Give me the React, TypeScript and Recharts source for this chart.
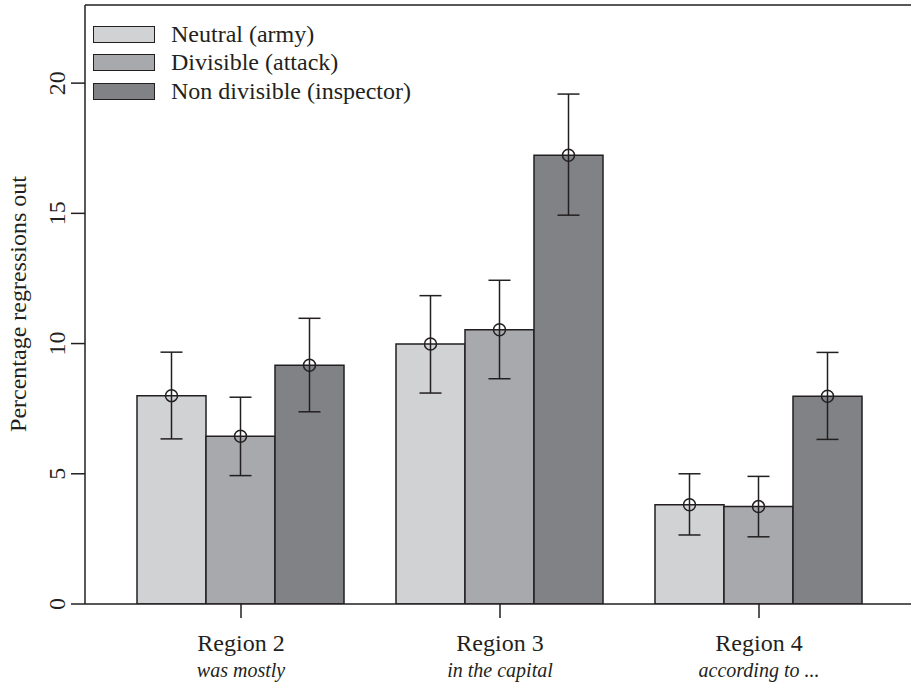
import { BarChart, Bar, XAxis, YAxis, ErrorBar, Legend, ReferenceLine } from 'recharts';

const categories = ['Region 2', 'Region 3', 'Region 4'];
const subtitles = ['was mostly', 'in the capital', 'according to ...'];

const neutral = [8.0, 9.98, 3.81];
const neutralLow = [6.34, 8.1, 2.65];
const neutralHigh = [9.67, 11.84, 5.0];

const divisible = [6.44, 10.53, 3.74];
const divisibleLow = [4.93, 8.65, 2.58];
const divisibleHigh = [7.94, 12.43, 4.9];

const nonDivisible = [9.17, 17.23, 7.98];
const nonDivisibleLow = [7.38, 14.93, 6.32];
const nonDivisibleHigh = [10.97, 19.58, 9.66];

const yTicks = [0, 5, 10, 15, 20];

const SERIES = [
  { key: 'neutral', name: 'Neutral (army)', fill: '#d1d2d4' },
  { key: 'divisible', name: 'Divisible (attack)', fill: '#a7a9ac' },
  { key: 'nonDivisible', name: 'Non divisible (inspector)', fill: '#808285' },
];

const INK = '#231f20';
const FONT = '"Liberation Serif", "Times New Roman", serif';

const data = categories.map((name, i) => ({
  name,
  neutral: neutral[i],
  neutralErr: [neutral[i] - neutralLow[i], neutralHigh[i] - neutral[i]],
  divisible: divisible[i],
  divisibleErr: [divisible[i] - divisibleLow[i], divisibleHigh[i] - divisible[i]],
  nonDivisible: nonDivisible[i],
  nonDivisibleErr: [nonDivisible[i] - nonDivisibleLow[i], nonDivisibleHigh[i] - nonDivisible[i]],
}));

function XTick({ x, y, payload }: any) {
  const idx = categories.indexOf(payload.value);
  return (
    <g>
      <text x={x} y={y + 31} textAnchor="middle" fontSize={24} fill={INK} fontFamily={FONT}>
        {payload.value}
      </text>
      <text x={x} y={y + 57} textAnchor="middle" fontSize={20} fontStyle="italic" fill={INK} fontFamily={FONT}>
        {subtitles[idx]}
      </text>
    </g>
  );
}

function YTick({ y, payload }: any) {
  return (
    <text
      transform={`translate(65, ${y}) rotate(-90)`}
      textAnchor="middle"
      fontSize={24}
      fill={INK}
      fontFamily={FONT}
    >
      {payload.value}
    </text>
  );
}

function MeanMarker(props: any) {
  const { x, y, width } = props;
  if (x == null || y == null) return null;
  return <circle cx={x + width / 2} cy={y} r={6} fill="none" stroke={INK} strokeWidth={1.5} />;
}

function LegendBox() {
  return (
    <div style={{ fontFamily: FONT, fontSize: 24, color: INK }}>
      {SERIES.map((s) => (
        <div key={s.key} style={{ display: 'flex', alignItems: 'center', height: 28.5 }}>
          <div
            style={{
              width: 60,
              height: 15,
              background: s.fill,
              border: `1.5px solid ${INK}`,
              marginRight: 16,
            }}
          />
          <span>{s.name}</span>
        </div>
      ))}
    </div>
  );
}

export default function App() {
  return (
    <div style={{ position: 'absolute', left: 0, top: 0, width: 911, height: 686, background: '#fff' }}>
      <BarChart
        width={911}
        height={686}
        data={data}
        margin={{ top: 5, right: 0, bottom: 0, left: 0 }}
        barCategoryGap={25.5}
        barGap={0}
      >
        <XAxis
          dataKey="name"
          height={82}
          padding={{ left: 26.5, right: 22.5 }}
          tickSize={14}
          tick={<XTick />}
          axisLine={{ stroke: INK, strokeWidth: 1.5 }}
          tickLine={{ stroke: INK, strokeWidth: 1.5 }}
          interval={0}
        />
        <YAxis
          width={85}
          domain={[0, 23]}
          ticks={yTicks}
          tickSize={14}
          tick={<YTick />}
          axisLine={{ stroke: INK, strokeWidth: 1.5 }}
          tickLine={{ stroke: INK, strokeWidth: 1.5 }}
          allowDataOverflow
          label={{
            content: () => (
              <text
                transform="translate(26, 304) rotate(-90)"
                textAnchor="middle"
                fontSize={24}
                fill={INK}
                fontFamily={FONT}
              >
                Percentage regressions out
              </text>
            ),
          }}
        />
        <ReferenceLine y={23} stroke={INK} strokeWidth={1.5} />
        <Legend
          layout="horizontal"
          verticalAlign="middle"
          align="center"
          content={<LegendBox />}
          wrapperStyle={{ position: 'absolute', left: 93, top: 20, width: 'auto' }}
        />
        {SERIES.map((s) => (
          <Bar
            key={s.key}
            dataKey={s.key}
            name={s.name}
            fill={s.fill}
            stroke={INK}
            strokeWidth={1.5}
            isAnimationActive={false}
            label={<MeanMarker />}
          >
            <ErrorBar
              dataKey={`${s.key}Err`}
              width={11}
              stroke={INK}
              strokeWidth={1.5}
              direction="y"
              isAnimationActive={false}
            />
          </Bar>
        ))}
      </BarChart>
    </div>
  );
}
